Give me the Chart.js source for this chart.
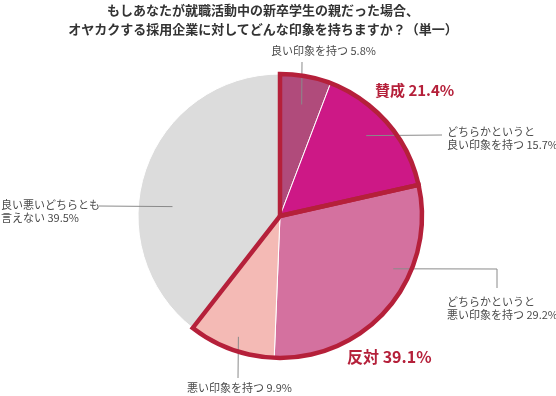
<!DOCTYPE html>
<html>
<head>
<meta charset="utf-8">
<script src="https://cdn.jsdelivr.net/npm/chart.js@4/dist/chart.umd.min.js"></script>
<style>
  html, body { margin: 0; padding: 0; background: #fff; }
  #wrap { position: relative; width: 556px; height: 396px; font-family: "Noto Sans CJK JP", "Noto Sans", sans-serif; }
  #pieChart { position: absolute; left: 0; top: 0; }
  .title { position: absolute; left: 0; top: 0; width: 526px; text-align: center; font-size: 13px; font-weight: bold; line-height: 19px; color: #333; }
  .lbl { position: absolute; font-size: 11px; line-height: 13px; color: #4a4a4a; white-space: nowrap; }
  .grp { position: absolute; font-size: 15px; font-weight: bold; line-height: 20px; color: #b5203a; white-space: nowrap; }
</style>
</head>
<body>
<div id="wrap">
  <canvas id="pieChart" width="556" height="396"></canvas>
  <div class="title">もしあなたが就職活動中の新卒学生の親だった場合、<br>オヤカクする採用企業に対してどんな印象を持ちますか？（単一）</div>
  <div class="lbl" style="left:271px;top:44px">良い印象を持つ 5.8%</div>
  <div class="grp" style="left:375px;top:80px">賛成 21.4%</div>
  <div class="lbl" style="left:447px;top:125px">どちらかというと<br>良い印象を持つ 15.7%</div>
  <div class="lbl" style="left:447px;top:295px">どちらかというと<br>悪い印象を持つ 29.2%</div>
  <div class="grp" style="left:347px;top:346px;font-size:16px">反対 39.1%</div>
  <div class="lbl" style="left:187px;top:381px">悪い印象を持つ 9.9%</div>
  <div class="lbl" style="left:1px;top:198px">良い悪いどちらとも<br>言えない 39.5%</div>
</div>
<script>
// Data (clockwise from 12 o'clock)
var categories = ['良い印象を持つ', 'どちらかというと良い印象を持つ', 'どちらかというと悪い印象を持つ', '悪い印象を持つ', '良い悪いどちらとも言えない'];
var shares = [5.8, 15.7, 29.2, 9.9, 39.5];
var sliceColors = ['#b04b7b', '#cd1886', '#d4719f', '#f4bab5', '#dcdcdc'];

// slices grouped by the red outline (賛成 / 反対)
var groups = [[0, 1], [2, 3]];

// leader lines: slice index, angle (deg clockwise from top), radius fraction, then elbow points in px
var leaders = [
    { slice: 0, angle: 11, r: 0.80, to: [[302, 62]] },
    { slice: 1, angle: 47, r: 0.83, to: [[442, 135]] },
    { slice: 2, angle: 115, r: 0.88, to: [[497, 269], [497, 288]] },
    { slice: 3, angle: 199, r: 0.90, to: [[238, 378]] },
    { slice: 4, angle: 275, r: 0.76, to: [[99, 206]] }
];

function polar(arc, deg, frac) {
    var a = (deg - 90) * Math.PI / 180;
    return [arc.x + Math.cos(a) * arc.outerRadius * frac, arc.y + Math.sin(a) * arc.outerRadius * frac];
}

const overlayPlugin = {
    id: 'overlay',
    afterDatasetsDraw(chart) {
        const ctx = chart.ctx;
        const arcs = chart.getDatasetMeta(0).data;

        // leader lines
        ctx.save();
        ctx.strokeStyle = '#8a8a8a';
        ctx.lineWidth = 1;
        leaders.forEach(l => {
            var p = polar(arcs[l.slice], l.angle, l.r);
            ctx.beginPath();
            ctx.moveTo(p[0], p[1]);
            l.to.forEach(pt => ctx.lineTo(pt[0], pt[1]));
            ctx.stroke();
        });
        ctx.restore();

        // red group outlines
        ctx.save();
        ctx.strokeStyle = '#b5203a';
        ctx.lineWidth = 4.5;
        ctx.lineJoin = 'miter';
        groups.forEach(g => {
            var first = arcs[g[0]];
            var last = arcs[g[g.length - 1]];
            ctx.beginPath();
            ctx.moveTo(first.x, first.y);
            ctx.arc(first.x, first.y, first.outerRadius, first.startAngle, last.endAngle);
            ctx.closePath();
            ctx.stroke();
        });
        ctx.restore();
    }
};

const chartConfig = {
    type: 'pie',
    data: {
        labels: categories,
        datasets: [{
            data: shares,
            backgroundColor: sliceColors,
            borderColor: '#ffffff',
            borderWidth: 1
        }]
    },
    options: {
        responsive: false,
        animation: false,
        radius: 142,
        layout: { padding: { left: 4, right: 0, top: 36, bottom: 0 } },
        plugins: {
            legend: { display: false },
            tooltip: { enabled: false }
        }
    },
    plugins: [overlayPlugin]
};

new Chart(document.getElementById('pieChart').getContext('2d'), chartConfig);
</script>
</body>
</html>
